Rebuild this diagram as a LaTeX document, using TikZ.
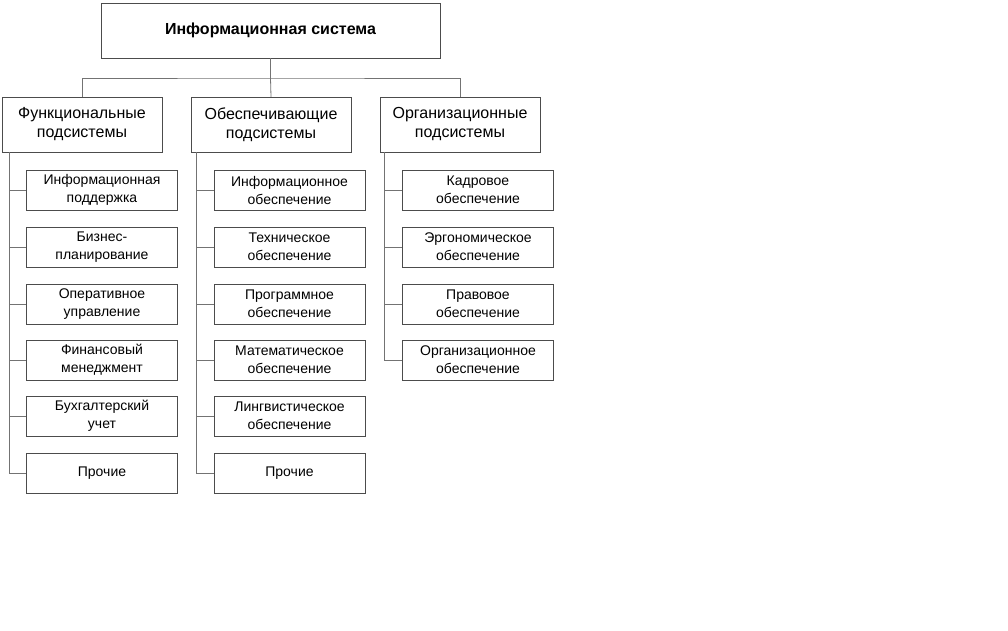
\documentclass[tikz,border=0pt]{standalone}
\usepackage{fontspec}
\setmainfont{Liberation Sans}
\usetikzlibrary{positioning}

\begin{document}
\begin{tikzpicture}[x=1pt, y=-1pt,
    box/.style={draw=black!70, fill=white, align=center, inner sep=0pt},
    topbox/.style={box, minimum width=339pt, minimum height=55pt, font=\fontsize{16}{19}\selectfont\bfseries},
    groupbox/.style={box, minimum width=160pt, minimum height=55pt, font=\fontsize{16}{19}\selectfont},
    itembox/.style={box, minimum width=151pt, minimum height=40pt, font=\fontsize{14}{18}\selectfont},
    link/.style={draw=black!55, line width=0.8pt}]
  \useasboundingbox (0,0) rectangle (1008,630);
  % Nodes
  \node[topbox] (is) at (270.5,30.5) {Информационная система};
  \node[groupbox] (func) at (82,124.5) {Функциональные\\подсистемы};
  \node[groupbox] (supp) at (271,124.5) {Обеспечивающие\\подсистемы};
  \node[groupbox] (org) at (460,124.5) {Организационные\\подсистемы};
  % Columns of items
  \foreach \name/\y/\txt in {f1/190/{Информационная\\поддержка}, f2/247/{Бизнес-\\планирование},
      f3/304/{Оперативное\\управление}, f4/360/{Финансовый\\менеджмент},
      f5/416/{Бухгалтерский\\учет}, f6/473/{Прочие}}
    \node[itembox] (\name) at (102,\y) {\txt};
  \foreach \name/\y/\txt in {s1/190/{Информационное\\обеспечение}, s2/247/{Техническое\\обеспечение},
      s3/304/{Программное\\обеспечение}, s4/360/{Математическое\\обеспечение},
      s5/416/{Лингвистическое\\обеспечение}, s6/473/{Прочие}}
    \node[itembox] (\name) at (289.5,\y) {\txt};
  \foreach \name/\y/\txt in {o1/190/{Кадровое\\обеспечение}, o2/247/{Эргономическое\\обеспечение},
      o3/304/{Правовое\\обеспечение}, o4/360/{Организационное\\обеспечение}}
    \node[itembox] (\name) at (478,\y) {\txt};
  % Edges
  \coordinate (bus) at (270.5,78);
  \draw[link] (is.south) -- (bus);
  \draw[link] (func.north) |- (bus) -| (org.north);
  \draw[link] (bus) -- (supp.north);
  \foreach \g/\x/\last in {func/9/f6, supp/196/s6, org/384/o4} {
    \draw[link] (\g.south -| \x,0) -- (\x,0 |- \last.west);
  }
  \foreach \n in {f1,f2,f3,f4,f5,f6} \draw[link] (9,0 |- \n.west) -- (\n.west);
  \foreach \n in {s1,s2,s3,s4,s5,s6} \draw[link] (196,0 |- \n.west) -- (\n.west);
  \foreach \n in {o1,o2,o3,o4} \draw[link] (384,0 |- \n.west) -- (\n.west);
\end{tikzpicture}
\end{document}
